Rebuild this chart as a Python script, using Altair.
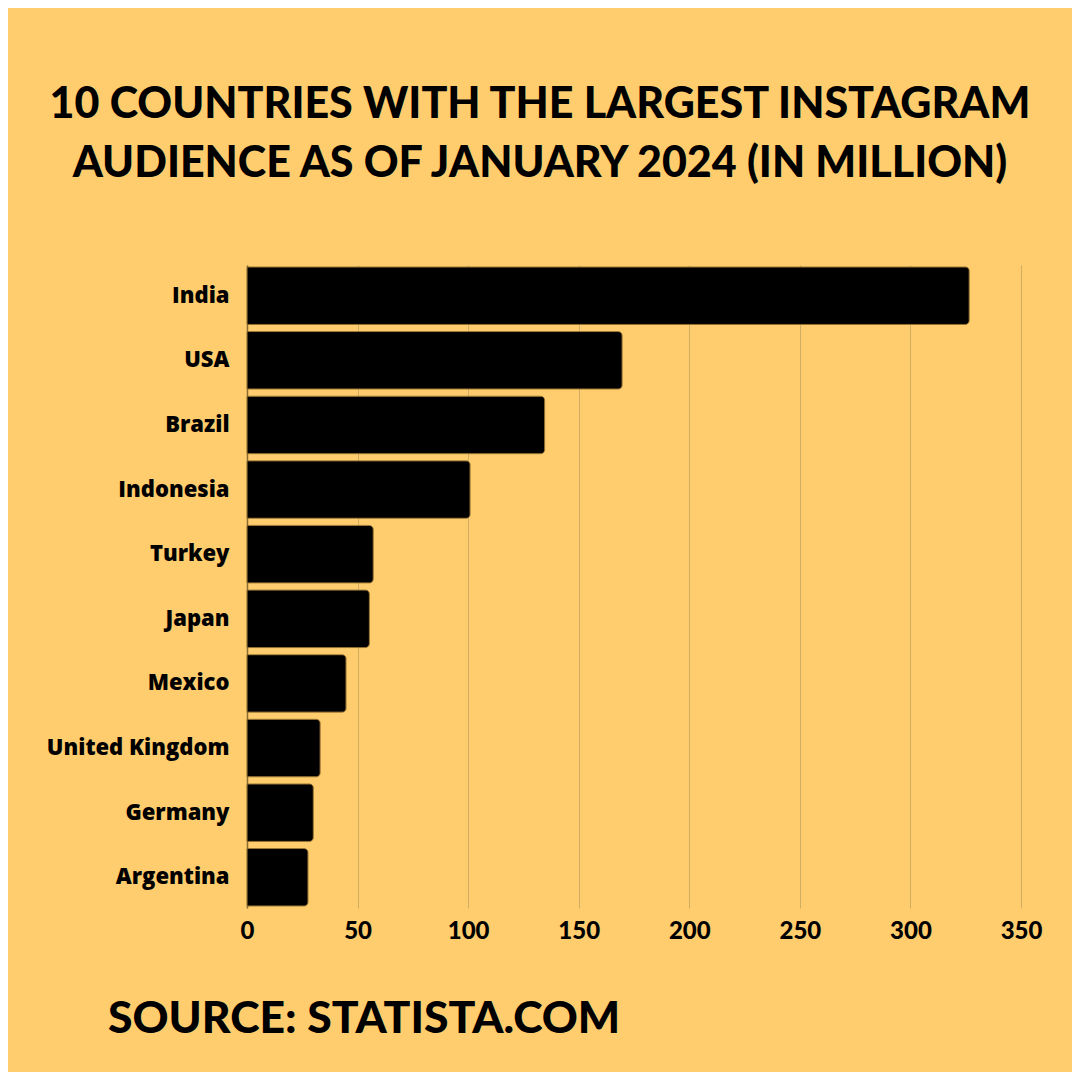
import altair as alt
import pandas as pd

countries = ["India", "USA", "Brazil", "Indonesia", "Turkey", "Japan", "Mexico",
             "United Kingdom", "Germany", "Argentina"]
audience = [326.6, 169.65, 134.6, 100.9, 57.1, 55.35, 44.8, 33.1, 30.0, 27.6]
x_ticks = [0, 50, 100, 150, 200, 250, 300, 350]
title_lines = ["10 COUNTRIES WITH THE LARGEST INSTAGRAM",
               "AUDIENCE AS OF JANUARY 2024 (IN MILLION)"]
source_text = "SOURCE: STATISTA.COM"

BG = "#FFCD6E"
FONT = "Lato"
LABEL_FONT = "Open Sans"

df = pd.DataFrame({"country": countries, "audience": audience})

bars = alt.Chart(df).mark_bar(
    color="black", stroke="#8A6A2E", strokeWidth=0.8, cornerRadiusEnd=4
).encode(
    x=alt.X("audience:Q",
            scale=alt.Scale(domain=[0, 350], nice=False),
            axis=alt.Axis(values=x_ticks, title=None, grid=True, gridColor="#D1AC63",
                          gridWidth=1, domain=False, ticks=False, labelFontSize=24,
                          labelFont=FONT, labelFontWeight=900, labelColor="black",
                          labelPadding=11, labelFlush=False)),
    y=alt.Y("country:N", sort=countries,
            scale=alt.Scale(paddingInner=0.11, paddingOuter=0.03),
            axis=alt.Axis(title=None, domain=True, domainColor="#8A6A2E", domainWidth=1.5,
                          ticks=False, labelFontSize=22, labelFont=LABEL_FONT,
                          labelFontWeight=800, labelColor="black", labelPadding=18,
                          labelLimit=400))
)

src = alt.Chart(pd.DataFrame({"t": [source_text]})).mark_text(
    align="left", baseline="middle", fontSize=44.5, font=FONT, fontWeight=900,
    color="black"
).encode(text="t:N", x=alt.value(-139), y=alt.value(755))

chart = alt.layer(bars, src).properties(
    width=774, height=643,
    autosize=alt.AutoSizeParams(type="none"),
    padding={"left": 239, "top": 257, "right": 51, "bottom": 164},
    background=BG,
    title=alt.TitleParams(title_lines, anchor="middle", frame="group", dx=-94,
                          offset=79, fontSize=43, font=FONT, fontWeight=900,
                          color="black", lineHeight=59)
).configure_view(stroke=None)

chart.save("out.html", embed_options={"renderer": "svg", "actions": False})
